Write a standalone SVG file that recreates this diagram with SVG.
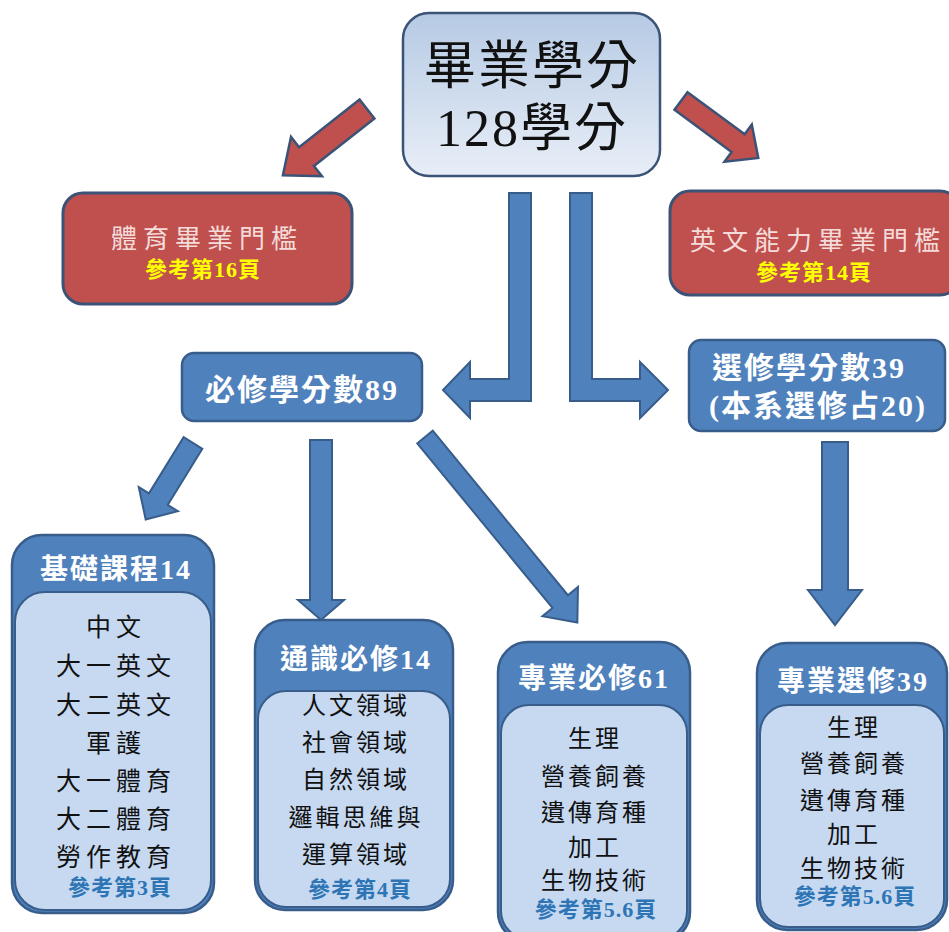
<svg xmlns="http://www.w3.org/2000/svg" width="949" height="932" viewBox="0 0 949 932">
<defs>
<linearGradient id="gTop" x1="0" y1="0" x2="0" y2="1">
<stop offset="0" stop-color="#b6cae4"/>
<stop offset="1" stop-color="#e8eef7"/>
</linearGradient>
<style>
.f{font-family:"Liberation Serif","Noto Sans CJK TC",serif;}
.title{font-size:52px;fill:#111;text-anchor:middle;letter-spacing:2px;}
.red{fill:#c0504d;stroke:#3b5377;stroke-width:3;}
.redt{font-size:26px;fill:#f4dcdb;text-anchor:middle;letter-spacing:6px;}
.yel{font-size:22px;fill:#ffff00;font-weight:bold;text-anchor:middle;letter-spacing:1px;}
.blue{fill:#4f81bd;stroke:#385d8a;stroke-width:2.5;}
.inner{fill:#c6d9f1;stroke:#385d8a;stroke-width:2;}
.wt{font-size:30px;fill:#fff;font-weight:bold;letter-spacing:2px;}
.hd{font-size:28px;fill:#fff;font-weight:bold;text-anchor:middle;letter-spacing:2px;}
.bt{font-size:25px;fill:#111;text-anchor:middle;letter-spacing:5px;}
.bt2{font-size:24px;fill:#111;text-anchor:middle;letter-spacing:3px;}
.ref{font-size:22px;fill:#2e75b6;font-weight:bold;text-anchor:middle;letter-spacing:1px;}
.rarrow{fill:#c0504d;stroke:#3b5377;stroke-width:2.5;}
.barrow{fill:#4f81bd;stroke:#385d8a;stroke-width:2;}
</style>
</defs>
<rect width="949" height="932" fill="#ffffff"/>

<g id="connectors">
<polygon class="rarrow" transform="translate(367,109) rotate(141.8)" points="0,-12 77,-12 77,-25 107,0 77,25 77,12 0,12"/>
<polygon class="rarrow" transform="translate(681,101) rotate(36.4)" points="0,-11 71,-11 71,-23 96,0 71,23 71,11 0,11"/>
<polygon class="barrow" points="509,193 531,193 531,401 470,401 470,418 443,390 470,362 470,379 509,379"/>
<polygon class="barrow" points="570,193 592,193 592,379 640,379 640,362 668,390 640,418 640,401 570,401"/>
<polygon class="barrow" transform="translate(193,443) rotate(121.7)" points="0,-11 66,-11 66,-23 90,0 66,23 66,11 0,11"/>
<polygon class="barrow" transform="translate(321,440) rotate(90)" points="0,-11 160,-11 160,-23 180,0 160,23 160,11 0,11"/>
<polygon class="barrow" transform="translate(425,437) rotate(50.6)" points="0,-10 213,-10 213,-23 240,0 213,23 213,10 0,10"/>
<polygon class="barrow" transform="translate(835,442) rotate(90)" points="0,-13 148,-13 148,-27 183,0 148,27 148,13 0,13"/>
</g>

<g id="node-total">
<rect x="403" y="13" width="257" height="163" rx="26" fill="url(#gTop)" stroke="#3b5377" stroke-width="2.5"/>
<text class="f title" x="532" y="84">畢業學分</text>
<text class="f title" x="532" y="146">128學分</text>
</g>

<g id="node-pe">
<rect class="red" x="63" y="193" width="289" height="111" rx="20"/>
<text class="f redt" x="207" y="248">體育畢業門檻</text>
<text class="f yel" x="203" y="277">參考第16頁</text>
</g>

<g id="node-eng">
<rect class="red" x="670" y="191" width="290" height="104" rx="20"/>
<text class="f redt" x="818" y="250">英文能力畢業門檻</text>
<text class="f yel" x="814" y="280">參考第14頁</text>
</g>

<g id="node-required">
<rect class="blue" x="182" y="353" width="240" height="68" rx="12"/>
<text class="f wt" x="302" y="400" text-anchor="middle">必修學分數89</text>
</g>

<g id="node-elective">
<rect class="blue" x="689" y="340" width="256" height="91" rx="12"/>
<text class="f wt" x="712" y="378">選修學分數39</text>
<text class="f wt" x="709" y="416">(本系選修占20)</text>
</g>

<g id="node-basic">
<rect class="blue" x="12" y="535" width="202" height="378" rx="30"/>
<rect class="inner" x="15" y="592" width="196" height="318" rx="30"/>
<text class="f hd" x="116" y="579">基礎課程14</text>
<text class="f bt" x="116" y="636">中文</text>
<text class="f bt" x="116" y="675">大一英文</text>
<text class="f bt" x="116" y="714">大二英文</text>
<text class="f bt" x="116" y="752">軍護</text>
<text class="f bt" x="116" y="790">大一體育</text>
<text class="f bt" x="116" y="828">大二體育</text>
<text class="f bt" x="116" y="866">勞作教育</text>
<text class="f ref" x="120" y="895">參考第3頁</text>
</g>

<g id="node-general">
<rect class="blue" x="255" y="620" width="198" height="290" rx="30"/>
<text class="f hd" x="356" y="669">通識必修14</text>
<rect class="inner" x="258" y="691" width="192" height="216" rx="28"/>
<text class="f bt2" x="356" y="714">人文領域</text>
<text class="f bt2" x="356" y="751">社會領域</text>
<text class="f bt2" x="356" y="788">自然領域</text>
<text class="f bt2" x="356" y="826">邏輯思維與</text>
<text class="f bt2" x="356" y="863">運算領域</text>
<text class="f ref" x="360" y="897">參考第4頁</text>
</g>

<g id="node-major-req">
<rect class="blue" x="498" y="642" width="192" height="300" rx="30"/>
<text class="f hd" x="594" y="688">專業必修61</text>
<rect class="inner" x="501" y="705" width="186" height="234" rx="28"/>
<text class="f bt2" x="595" y="747">生理</text>
<text class="f bt2" x="595" y="785">營養飼養</text>
<text class="f bt2" x="595" y="821">遺傳育種</text>
<text class="f bt2" x="595" y="856">加工</text>
<text class="f bt2" x="595" y="889">生物技術</text>
<text class="f ref" x="596" y="917">參考第5.6頁</text>
</g>

<g id="node-major-elec">
<rect class="blue" x="757" y="643" width="190" height="287" rx="30"/>
<text class="f hd" x="853" y="691">專業選修39</text>
<rect class="inner" x="760" y="705" width="184" height="222" rx="28"/>
<text class="f bt2" x="854" y="736">生理</text>
<text class="f bt2" x="854" y="772">營養飼養</text>
<text class="f bt2" x="854" y="809">遺傳育種</text>
<text class="f bt2" x="854" y="843">加工</text>
<text class="f bt2" x="854" y="877">生物技術</text>
<text class="f ref" x="855" y="904">參考第5.6頁</text>
</g>
</svg>
